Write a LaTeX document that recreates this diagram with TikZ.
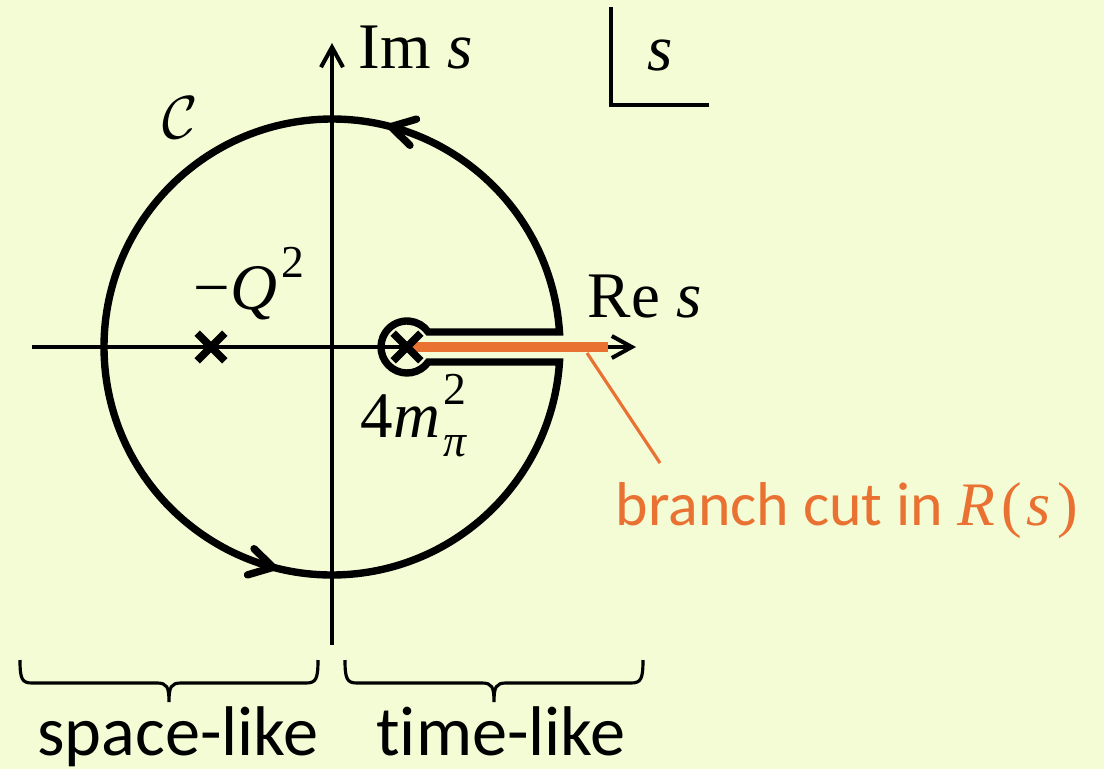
\documentclass[tikz,border=0pt]{standalone}
\usepackage{fontspec}
\setmainfont[Ligatures=NoCommon]{Carlito}
\newfontfamily\mf{Liberation Serif}
\usetikzlibrary{arrows.meta,calc,decorations.markings,shapes.misc}
\definecolor{bgc}{RGB}{244,252,214}
\definecolor{org}{RGB}{233,113,50}
\newcommand\mfsize{\fontsize{18.5}{20}\selectfont}
\newcommand\smsize{\fontsize{13}{13}\selectfont}
\begin{document}
\begin{tikzpicture}[x=0.1mm,y=0.1mm,
  axis/.style={line width=1.15pt,-{Straight Barb[length=2mm,width=2.2mm]}},
  contour/.style={line width=2.1pt},
  cutline/.style={org,line width=3.1pt},
  pointer/.style={org,line width=0.9pt},
  crossmark/.style={draw,cross out,minimum size=2mm,inner sep=0pt,line width=2.2pt},
  bracestyle/.style={line width=0.9pt},
  lab/.style={inner sep=0pt,anchor=base west},
  labc/.style={inner sep=0pt,anchor=base},
]
\fill[bgc] (0,0) rectangle (1104,769);
\useasboundingbox (0,0) rectangle (1104,769);
% coordinates
\coordinate (O) at (332,422);
\coordinate (S) at (407,422);
\coordinate (xl) at (32,422);
\coordinate (xr) at (636,422);
\coordinate (yb) at (332,124);
\coordinate (yt) at (332,726);
% axes
\draw[axis] (xl) -- (xr);
\draw[axis] (yb) -- (yt);
% contour
\draw[contour] ($(O)+(3.77:228)$) arc[start angle=3.77,end angle=356.23,radius=228]
  -- ($(S)+(-35.2:26)$) arc[start angle=-35.2,end angle=-324.8,radius=26] -- cycle;
\path[decoration={markings,
   mark=at position 0.211 with {\arrow[line width=2.1pt]{Straight Barb[length=2.3mm,width=2.7mm,round]}},
   mark=at position 0.711 with {\arrow[line width=2.1pt]{Straight Barb[length=2.3mm,width=2.7mm,round]}}},
   decorate] (O) circle[radius=228];
% branch cut
\coordinate (cutend) at (608,422);
\draw[cutline] (S) -- (cutend);
\node[crossmark] (q2) at (211,422) {};
\node[crossmark] (m4) at (S) {};
% corner s
\coordinate (c1) at (611,762);
\coordinate (c2) at (611,664);
\coordinate (c3) at (709,664);
\draw[line width=1pt] (c1) -- (c2) -- (c3);
\node[labc] (scorner) at (660,699) {\mfsize\mf\itshape s};
% labels
\node[lab] (im) at (358,701) {\mfsize\mf Im \textit{s}};
\node[lab] (re) at (587,452) {\mfsize\mf Re \textit{s}};
\node[inner sep=0pt] (calC) at (180,651) {\fontsize{17}{17}\selectfont$\mathcal{C}$};
\node[lab] (mq) at (193,460) {\mfsize\mf −\textit{Q}\kern0.07em\raisebox{0.48em}{\smsize 2}};
\node[lab] (fourm) at (360,332) {\mfsize\mf 4\textit{m}\kern0.05em\rlap{\raisebox{0.5em}{\smsize 2}}\raisebox{-0.3em}{\smsize\itshape π}};
\node[lab,text=org] (branch) at (615,244) {\fontsize{17.6}{18}\selectfont branch cut in {\mf\itshape R}\kern0.1em{\mf(}\kern0.08em{\mf\itshape s}\kern0.1em{\mf)}};
\coordinate (p1) at (587,416);
\coordinate (p2) at (660,306);
\draw[pointer] (p1) -- (p2);
% braces
\draw[bracestyle] (20,109) .. controls (20,90) and (22,86) .. (32,86) -- (157,86)
   .. controls (167,86) and (169,82) .. (169,67)
   .. controls (169,82) and (171,86) .. (181,86) -- (306,86)
   .. controls (316,86) and (318,90) .. (318,109);
\draw[bracestyle] (345,109) .. controls (345,90) and (347,86) .. (357,86) -- (482,86)
   .. controls (492,86) and (494,82) .. (494,67)
   .. controls (494,82) and (496,86) .. (506,86) -- (631,86)
   .. controls (641,86) and (643,90) .. (643,109);
\node[labc] (space) at (178,14) {\fontsize{20}{22}\selectfont space-like};
\node[labc] (time) at (501,14) {\fontsize{20}{22}\selectfont time-like};
\end{tikzpicture}
\end{document}
